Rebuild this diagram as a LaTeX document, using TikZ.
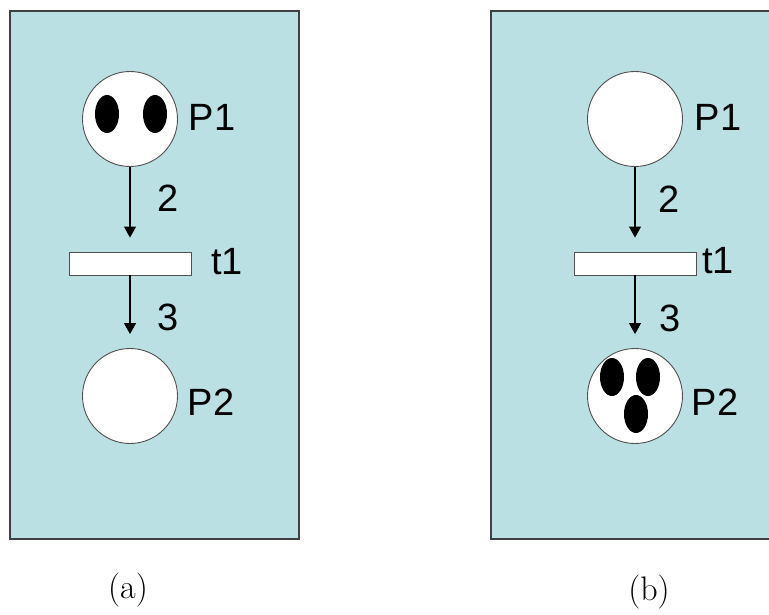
\documentclass[tikz,border=0pt]{standalone}
\usepackage{fontspec}
\setmainfont{Liberation Sans}
\usetikzlibrary{arrows.meta}
\definecolor{panelfill}{HTML}{BBE0E3}
\definecolor{panelline}{HTML}{404040}
\definecolor{ringline}{HTML}{505050}
\newfontfamily\capfont{Latin Modern Roman}
\begin{document}
\begin{tikzpicture}[x=1pt,y=-1pt,
  panel/.style={fill=panelfill,draw=panelline,line width=1.5pt},
  place/.style={circle,fill=white,draw=ringline,line width=0.9pt,minimum size=95pt,inner sep=0pt},
  trans/.style={rectangle,fill=white,draw=ringline,line width=0.9pt,minimum width=122pt,minimum height=23pt,inner sep=0pt},
  lbl/.style={inner sep=0pt,font=\fontsize{38}{40}\selectfont},
  captxt/.style={inner sep=0pt,font=\capfont\fontsize{34}{36}\selectfont},
  arc/.style={-{Triangle[length=11pt,width=12pt]},line width=1.1pt,shorten >=14pt}
]
\useasboundingbox (0,0) rectangle (769,615);
% panels
\draw[panel] (10,11) rectangle (299,539);
\fill[panelfill] (491,11) rectangle (769,539);
\draw[panelline,line width=1.5pt] (769,11) -- (491,11) -- (491,539) -- (769,539);

% ---- (a)
\node[place] (aP1) at (130,119) {};
\node[trans] (at1) at (130,263.5) {};
\node[place] (aP2) at (130,396) {};
\draw[arc] (aP1) -- (at1);
\draw[arc] (at1) -- (aP2);
\fill[black] (107,114) ellipse [x radius=12, y radius=19];
\fill[black] (155,114) ellipse [x radius=12, y radius=19];
\node[lbl] (aP1l) at (212,117) {P1};
\node[lbl] (at1l) at (227,262) {t1};
\node[lbl] (aP2l) at (211,402) {P2};
\node[lbl] (aw1) at (168,198) {2};
\node[lbl] (aw2) at (168,317) {3};
\node[captxt] (acap) at (128,590) {(a)};

% ---- (b)
\node[place] (bP1) at (635,119) {};
\node[trans] (bt1) at (635,263.5) {};
\node[place] (bP2) at (635,396) {};
\draw[arc] (bP1) -- (bt1);
\draw[arc] (bt1) -- (bP2);
\fill[black] (612,377) ellipse [x radius=12, y radius=19];
\fill[black] (648,377) ellipse [x radius=12, y radius=19];
\fill[black] (636,414) ellipse [x radius=12, y radius=19];
\node[lbl] (bP1l) at (718,117) {P1};
\node[lbl] (bt1l) at (718,261) {t1};
\node[lbl] (bP2l) at (715,402) {P2};
\node[lbl] (bw1) at (669,199) {2};
\node[lbl] (bw2) at (670,318) {3};
\node[captxt] (bcap) at (649,592) {(b)};
\end{tikzpicture}
\end{document}
